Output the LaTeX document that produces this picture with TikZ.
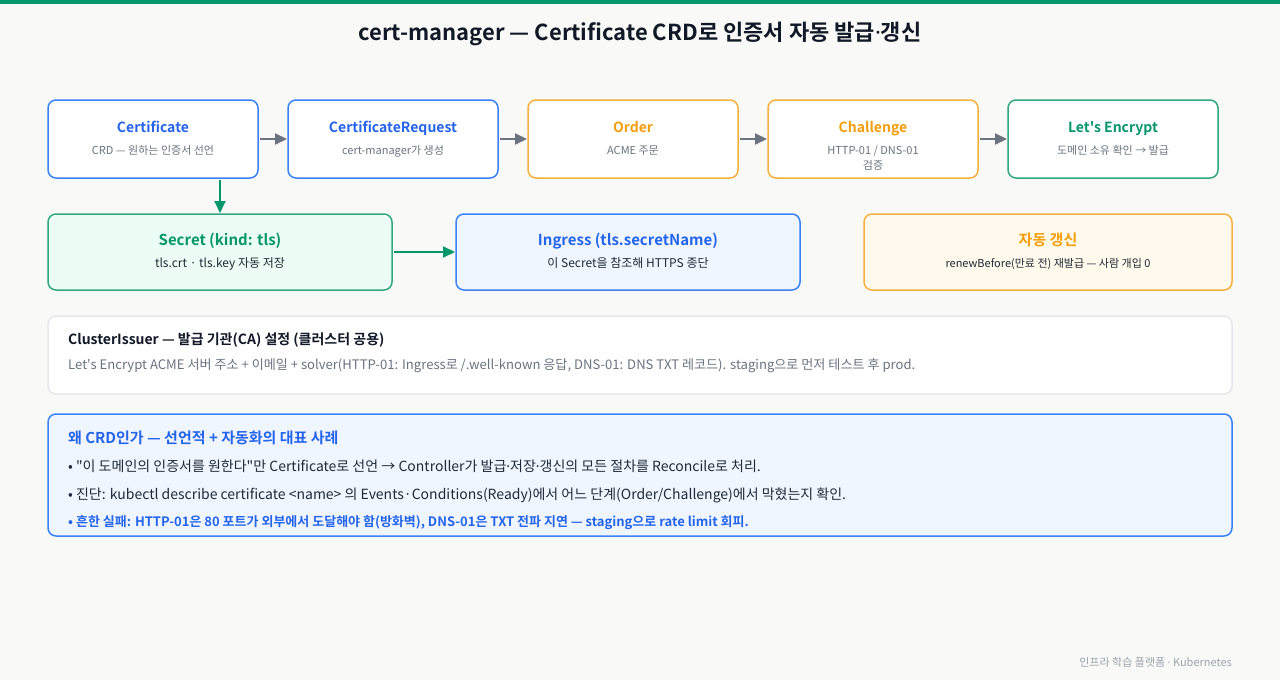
\documentclass[tikz,border=0pt]{standalone}
\usepackage{fontspec}
\setmainfont{Noto Sans CJK KR}[BoldFont={Noto Sans CJK KR Bold}, Ligatures=TeXOff]
\newfontfamily\dotfont{Noto Sans}[Ligatures=TeXOff]
\newcommand{\ndot}{{\dotfont ·}}
\usetikzlibrary{arrows.meta,positioning}

\definecolor{paper}{HTML}{F9FAF7}
\definecolor{topbar}{HTML}{059669}
\definecolor{ink}{HTML}{111827}
\definecolor{body}{HTML}{1F2937}
\definecolor{muted}{HTML}{6B7280}
\definecolor{faint}{HTML}{9CA3AF}
\definecolor{arrowgray}{HTML}{6B7280}
\definecolor{blueline}{HTML}{3B82F6}
\definecolor{bluetext}{HTML}{2563EB}
\definecolor{bluefill}{HTML}{EFF6FF}
\definecolor{amberline}{HTML}{F5B041}
\definecolor{ambertext}{HTML}{F59E0B}
\definecolor{amberfill}{HTML}{FFFAEB}
\definecolor{leafline}{HTML}{34A77F}
\definecolor{leaftext}{HTML}{059669}
\definecolor{leaffill}{HTML}{ECFDF5}
\definecolor{greyline}{HTML}{E5E7EB}

\begin{document}
\begin{tikzpicture}[
  x=1pt, y=-1pt,
  stage/.style={draw, line width=1.5pt, rounded corners=8pt, fill=white, minimum width=210pt, minimum height=78pt, inner sep=0pt, outer sep=0pt},
  wide/.style={stage, minimum width=344pt, minimum height=76pt},
  panel/.style={draw, line width=1.5pt, rounded corners=8pt, minimum width=1184pt, inner sep=0pt, outer sep=0pt},
  ttl/.style={font=\bfseries\fontsize{14}{16}\selectfont, anchor=base, inner sep=0pt},
  sub/.style={font=\fontsize{11}{15}\selectfont, text=muted, align=center, anchor=base, inner sep=0pt},
  bigttl/.style={ttl, font=\bfseries\fontsize{15}{18}\selectfont},
  bigsub/.style={sub, font=\fontsize{12}{15}\selectfont, text=body},
  line/.style={font=\fontsize{14}{16}\selectfont, anchor=base west, inner sep=0pt, text=body},
  flow/.style={-{Triangle[length=12pt,width=11pt]}, line width=2pt, draw=arrowgray, shorten <=2pt, shorten >=1pt},
  link/.style={flow, draw=leaftext}
]
% canvas
\fill[paper] (0,0) rectangle (1280,680);
\fill[topbar] (0,0) rectangle (1280,4);
\node[font=\bfseries\fontsize{22}{26}\selectfont, text=ink] (title) at (640,34) {cert-manager — Certificate CRD로 인증서 자동 발급\ndot 갱신};

% pipeline
\node[stage, draw=blueline] (cert) at (153,139) {};
\node[stage, draw=blueline, right=30pt of cert] (certreq) {};
\node[stage, draw=amberline, right=30pt of certreq] (order) {};
\node[stage, draw=amberline, right=30pt of order] (challenge) {};
\node[stage, draw=leafline, right=30pt of challenge] (letsenc) {};

\node[ttl, text=bluetext] (certT) at ([yshift=-32pt]cert.north) {Certificate};
\node[sub] (certS) at ([yshift=-54pt]cert.north) {CRD — 원하는 인증서 선언};
\node[ttl, text=bluetext] (certreqT) at ([yshift=-32pt]certreq.north) {CertificateRequest};
\node[sub] (certreqS) at ([yshift=-54pt]certreq.north) {cert-manager가 생성};
\node[ttl, text=ambertext] (orderT) at ([yshift=-32pt]order.north) {Order};
\node[sub] (orderS) at ([yshift=-54pt]order.north) {ACME 주문};
\node[ttl, text=ambertext] (challengeT) at ([yshift=-32pt]challenge.north) {Challenge};
\node[sub] (challengeS) at ([yshift=-69pt]challenge.north) {HTTP-01 / DNS-01\\검증};
\node[ttl, text=leaftext] (letsencT) at ([yshift=-32pt]letsenc.north) {Let's Encrypt};
\node[sub] (letsencS) at ([yshift=-54pt]letsenc.north) {도메인 소유 확인 → 발급};

\draw[flow] (cert) -- (certreq);
\draw[flow] (certreq) -- (order);
\draw[flow] (order) -- (challenge);
\draw[flow] (challenge) -- (letsenc);

% results
\node[wide, draw=leafline, fill=leaffill, below=36pt of cert.south west, anchor=north west] (secret) {};
\node[wide, draw=blueline, fill=bluefill, right=64pt of secret] (ingress) {};
\node[wide, draw=amberline, fill=amberfill, right=64pt of ingress, minimum width=368pt] (renew) {};

\node[bigttl, text=leaftext] (secretT) at ([yshift=-31pt]secret.north) {Secret (kind: tls)};
\node[bigsub] (secretS) at ([yshift=-53pt]secret.north) {tls.crt · tls.key 자동 저장};
\node[bigttl, text=bluetext] (ingressT) at ([yshift=-31pt]ingress.north) {Ingress (tls.secretName)};
\node[bigsub] (ingressS) at ([yshift=-53pt]ingress.north) {이 Secret을 참조해 HTTPS 종단};
\node[bigttl, text=ambertext] (renewT) at ([yshift=-31pt]renew.north) {자동 갱신};
\node[bigsub, font=\fontsize{11}{15}\selectfont] (renewS) at ([yshift=-53pt]renew.north) {renewBefore(만료 전) 재발급 — 사람 개입 0};

\draw[link] (cert.south -| secret.north) -- (secret.north);
\draw[link] (secret) -- (ingress);

% issuer
\node[panel, draw=greyline, fill=white, minimum height=78pt, below=26pt of secret.south west, anchor=north west] (issuer) {};
\node[line, font=\bfseries\fontsize{14}{16}\selectfont, text=ink] (issuerT) at ([xshift=20pt, yshift=-28pt]issuer.north west) {ClusterIssuer — 발급 기관(CA) 설정 (클러스터 공용)};
\node[line, font=\fontsize{13.1}{16}\selectfont, text=muted] (issuerS) at ([xshift=20pt, yshift=-53pt]issuer.north west) {Let's Encrypt ACME 서버 주소 + 이메일 + solver(HTTP-01: Ingress로 /.well-known 응답, DNS-01: DNS TXT 레코드). staging으로 먼저 테스트 후 prod.};

% why
\node[panel, draw=blueline, fill=bluefill, minimum height=122pt, below=20pt of issuer] (why) {};
\node[line, font=\bfseries\fontsize{15}{18}\selectfont, text=bluetext] (whyT) at ([xshift=20pt, yshift=-29pt]why.north west) {왜 CRD인가 — 선언적 + 자동화의 대표 사례};
\node[line] (why1) at ([xshift=20pt, yshift=-57pt]why.north west) {• "이 도메인의 인증서를 원한다"만 Certificate로 선언 → Controller가 발급\ndot 저장\ndot 갱신의 모든 절차를 Reconcile로 처리.};
\node[line] (why2) at ([xshift=20pt, yshift=-85pt]why.north west) {• 진단: kubectl describe certificate <name> 의 Events·Conditions(Ready)에서 어느 단계(Order/Challenge)에서 막혔는지 확인.};
\node[line, font=\bfseries\fontsize{13}{16}\selectfont, text=bluetext] (why3) at ([xshift=20pt, yshift=-112pt]why.north west) {• 흔한 실패: HTTP-01은 80 포트가 외부에서 도달해야 함(방화벽), DNS-01은 TXT 전파 지연 — staging으로 rate limit 회피.};

% footer
\node[font=\fontsize{11}{13}\selectfont, text=faint, anchor=base east, inner sep=0pt] (footer) at (1232,666) {인프라 학습 플랫폼 \ndot{} Kubernetes};
\end{tikzpicture}
\end{document}
